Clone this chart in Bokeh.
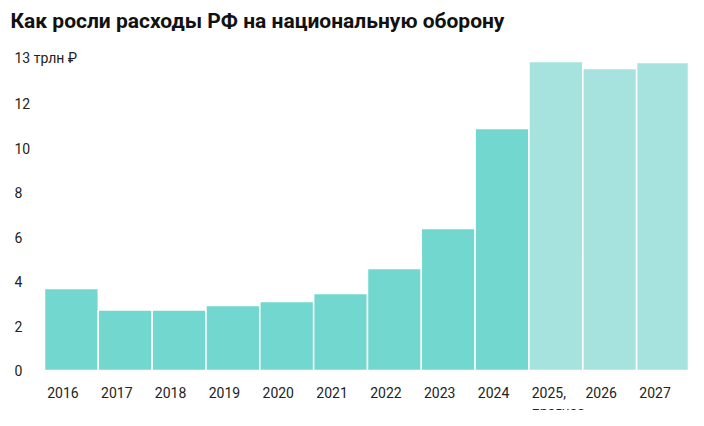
from bokeh.plotting import figure
from bokeh.models import Range1d, ColumnDataSource
from bokeh.core.properties import value
from bokeh.embed import file_html
from bokeh.resources import INLINE

years = ["2016","2017","2018","2019","2020","2021","2022","2023","2024","2025,","2026","2027"]
spend = [3.69, 2.72, 2.72, 2.92, 3.1, 3.46, 4.58, 6.38, 10.88, 13.89, 13.57, 13.84]
forecast = [False]*9 + [True]*3
yticks = [0, 2, 4, 6, 8, 10, 12]
title = "Как росли расходы РФ на национальную оборону"
unit_label = "13 трлн ₽"

PXU = 53.83; PYU = 22.25
def xd(px): return (px-44)/PXU - 0.5
def yd(py): return (370-py)/PYU

p = figure(width=688, height=410, output_backend="svg", toolbar_location=None,
           x_range=Range1d(xd(0), xd(688)), y_range=Range1d(yd(410), yd(0)),
           min_border=0)
p.axis.visible = False
p.grid.visible = False
p.outline_line_color = None

xs = list(range(len(years)))
colors = ["#a6e3df" if f else "#72d7cf" for f in forecast]
src = ColumnDataSource(dict(x=xs, top=spend, color=colors))
p.vbar(x="x", top="top", bottom=0, width=1, fill_color="color", line_color="white", line_width=1.5, source=src)

font = value("Roboto")
p.text(x=[xd(14)]*len(yticks), y=yticks, text=[str(t) for t in yticks], text_font=font,
       text_font_size="14px", text_baseline="middle", text_color="#222222")
p.text(x=[xd(14)], y=[yd(57)], text=[unit_label], text_font=font, text_font_size="14px",
       text_baseline="middle", text_color="#222222")
p.text(x=[i-0.45 for i in xs], y=[yd(392)]*len(xs), text=years, text_font=font,
       text_font_size="14px", text_baseline="middle", text_color="#222222")
p.text(x=[9-0.45], y=[yd(411)], text=["прогноз"], text_font=font,
       text_font_size="14px", text_baseline="middle", text_color="#222222")
p.text(x=[xd(10)], y=[yd(20)], text=[title], text_font=font, text_font_size="21px",
       text_font_style="bold", text_baseline="middle", text_color="#111111")

open("out.html", "w").write(file_html(p, INLINE))
